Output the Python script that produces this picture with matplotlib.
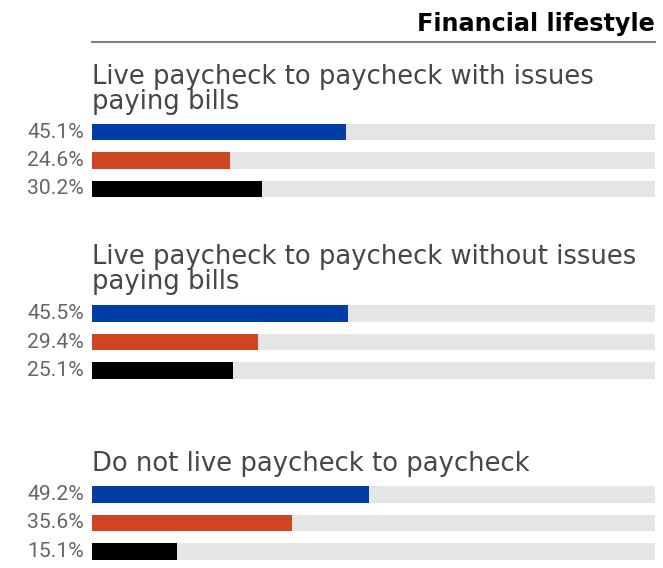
import matplotlib
matplotlib.use("Agg")
import matplotlib.pyplot as plt
from matplotlib.transforms import offset_copy

# survey results, share of respondents per group (three series each)
groups = [
    "Live paycheck to paycheck with issues\npaying bills",
    "Live paycheck to paycheck without issues\npaying bills",
    "Do not live paycheck to paycheck",
]
values = [
    [45.1, 24.6, 30.2],
    [45.5, 29.4, 25.1],
    [49.2, 35.6, 15.1],
]
colors = ["#003DA5", "#D04521", "#000000"]
title = "Financial lifestyle"

W, H = 663, 568
fig = plt.figure(figsize=(W / 100, H / 100), dpi=100)
left, right = 92, 655
ax = fig.add_axes([left / W, 0, (right - left) / W, 1])
ax.set_xlim(0, 100)
ax.set_ylim(H, 0)  # y measured in pixels from the top
ax.axis("off")

title_font = dict(family="DejaVu Sans", color="#474747", fontsize=18.6)
label_font = dict(family=["Roboto", "DejaVu Sans"], color="#666666", fontsize=15.2)

# header and rule
fig.text(right / W, 1 - 31 / H, title, ha="right", va="baseline",
         fontsize=17.2, fontweight="bold", family="DejaVu Sans")
ax.plot([0, 100], [41.5, 41.5], color="#808080", lw=1.5, clip_on=False)

# baseline of the last line of each group heading
group_baselines = [109, 289, 471]
bar_rows = [[132, 160.5, 189], [313.5, 342, 370.5], [494.5, 523, 551.5]]
bar_h = 16.5

label_tr = offset_copy(ax.transData, fig=fig, x=-8, y=0, units="dots")
for name, vals, base, rows in zip(groups, values, group_baselines, bar_rows):
    ax.text(0, base, name, ha="left", va="baseline", linespacing=0.93, **title_font)
    ax.barh(rows, [100] * 3, height=bar_h, left=0, color="#E5E5E5")
    ax.barh(rows, vals, height=bar_h, left=0, color=colors)
    for v, y in zip(vals, rows):
        ax.text(0, y, f"{v}%", ha="right", va="center", transform=label_tr, **label_font)

fig.savefig("out.png", dpi=100)
